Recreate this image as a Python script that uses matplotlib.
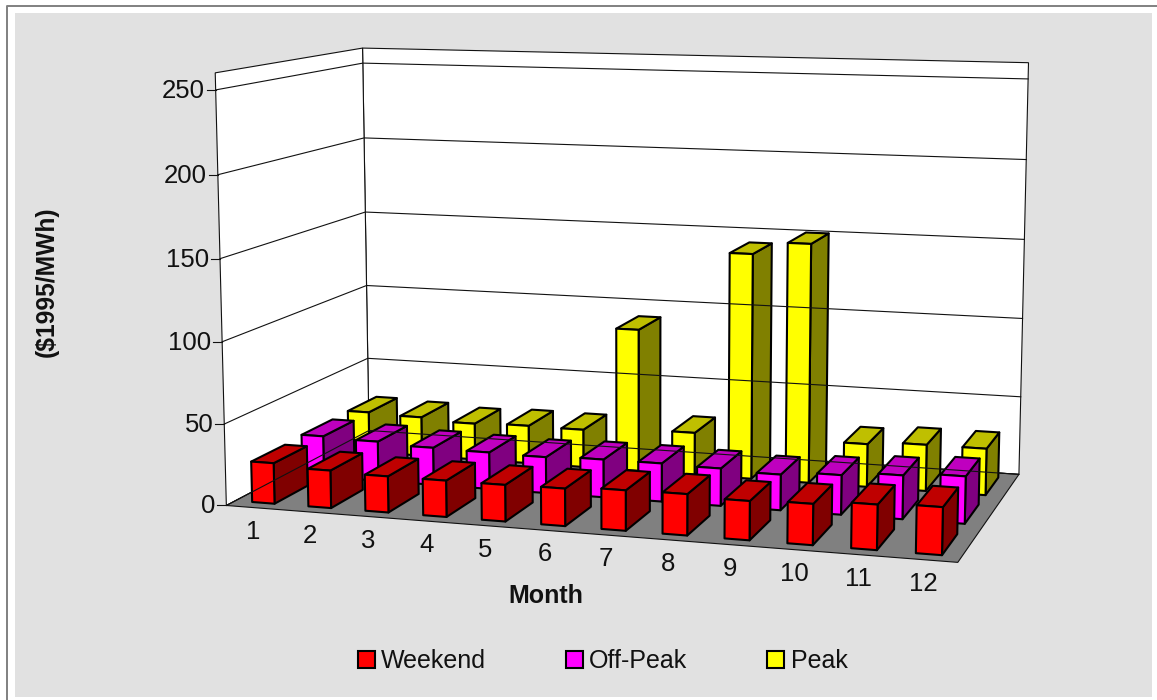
import matplotlib
matplotlib.use('Agg')
import matplotlib.pyplot as plt
from matplotlib.patches import Patch, Polygon, Rectangle
import numpy as np

plt.rcParams['font.family'] = ['Liberation Sans', 'DejaVu Sans']

months = ['1', '2', '3', '4', '5', '6', '7', '8', '9', '10', '11', '12']
weekend = [25, 23, 22, 22, 22, 22.4, 24, 24.4, 23, 24, 26.3, 27.5]
off_peak = [26, 25, 23.5, 23, 22.5, 23.5, 23.6, 23, 21.8, 24, 26.4, 28.4]
peak = [26.5, 25.5, 23.6, 24.5, 24.3, 91, 27, 142.5, 150.4, 27, 29, 29]
y_ticks = [0, 50, 100, 150, 200, 250]
y_top = 260
series = [('Peak', peak, '#FFFF00', '#808000', '#BFBF00'),
          ('Off-Peak', off_peak, '#FF00FF', '#800080', '#BF00BF'),
          ('Weekend', weekend, '#FF0000', '#800000', '#BF0000')]

# chart frame: (month, depth, value) corners and where they land on the canvas
frame_pts = [(0, 0, 0), (12, 0, 0), (12, 3, 0), (0, 3, 260), (12, 3, 260), (0, 0, 260),
             (0, 0, 250), (0, 3, 250), (12, 3, 250), (0, 0, 200), (0, 3, 200), (0, 0, 50), (0, 3, 50)]
frame_px = [(225.7, 505.3), (957.7, 562.7), (1019, 474), (362.7, 48), (1028.3, 62.7), (214.7, 72.7),
            (215.7, 90), (362.7, 63.3), (1028.3, 79), (218.3, 174.7), (364, 137.7), (225, 424), (367.7, 358.7)]


def fit_camera(pts, px):
    # least squares 3x4 projective matrix, coordinates scaled to 0-1
    rows, rhs = [], []
    for (x, y, z), (u, v) in zip(pts, px):
        p = [x / 12, y / 3, z / 260, 1]
        rows.append(p + [0, 0, 0, 0] + [-u * c for c in p[:3]])
        rows.append([0, 0, 0, 0] + p + [-v * c for c in p[:3]])
        rhs += [u, v]
    sol = np.linalg.lstsq(np.array(rows), np.array(rhs), rcond=None)[0]
    return np.append(sol, 1).reshape(3, 4)


cam = fit_camera(frame_pts, frame_px)


def project(x, y, z):
    h = cam @ np.array([x / 12, y / 3, z / 260, 1])
    return h[0] / h[2], h[1] / h[2]


def face(ax, corners, color, **kw):
    ax.add_patch(Polygon([project(*c) for c in corners], closed=True, facecolor=color, **kw))


fig = plt.figure(figsize=(11.57, 7), dpi=100)
ax = fig.add_axes([0, 0, 1, 1])
ax.set_xlim(0, 1157)
ax.set_ylim(700, 0)
ax.axis('off')
ax.add_patch(Rectangle((15, 13), 1137, 684, facecolor='#E1E1E1', edgecolor='none'))
ax.plot([7, 7, 1157], [700, 6, 6], color='#808080', lw=1.4)

# walls and floor
line = dict(edgecolor='#111111', lw=0.8)
face(ax, [(0, 3, 0), (12, 3, 0), (12, 3, y_top), (0, 3, y_top)], 'white', **line)
face(ax, [(0, 0, 0), (0, 3, 0), (0, 3, y_top), (0, 0, y_top)], 'white', **line)
face(ax, [(0, 0, 0), (12, 0, 0), (12, 3, 0), (0, 3, 0)], '#808080', **line)

for v in y_ticks:
    ax.plot(*zip(project(0, 0, v), project(0, 3, v), project(12, 3, v)), color='#111111', lw=0.8)
    u0, v0 = project(0, 0, v)
    ax.plot([u0 - 9, u0], [v0, v0], color='#111111', lw=0.8)
    ax.text(u0 - 11, v0 + 1, str(v), ha='right', va='center', fontsize=18.5, color='#111111')

# bars, back row first
bar_lw = 1.5
half_w = 0.2
for row, (name, values, front, side, top) in zip([2, 1, 0], series):
    y0, y1 = row + 0.17, row + 0.83
    for i, val in enumerate(values):
        x0, x1 = i + 0.5 - half_w, i + 0.5 + half_w
        edge = dict(edgecolor='black', lw=bar_lw, joinstyle='round')
        face(ax, [(x1, y0, 0), (x1, y1, 0), (x1, y1, val), (x1, y0, val)], side, **edge)
        face(ax, [(x0, y0, val), (x1, y0, val), (x1, y1, val), (x0, y1, val)], top, **edge)
        face(ax, [(x0, y0, 0), (x1, y0, 0), (x1, y0, val), (x0, y0, val)], front, **edge)

for i, m in enumerate(months):
    u, v = project(i + 0.5, 0, 0)
    ax.text(u - 1, v + 24, m, ha='center', va='center', fontsize=18.5, color='#111111')

ax.text(546, 596, 'Month', ha='center', va='center', fontsize=18, fontweight='bold', color='#111111')
ax.text(47, 282, '($1995/MWh)', ha='center', va='center', rotation=90, fontsize=17.7, fontweight='bold', color='#111111')

handles = [Patch(facecolor=s[2], edgecolor='black', lw=1.5, label=s[0]) for s in reversed(series)]
ax.legend(handles=handles, ncol=3, loc='center', bbox_to_anchor=(602.5, 661), bbox_transform=ax.transData,
          frameon=False, fontsize=18, handlelength=0.68, handleheight=0.68, handletextpad=0.25,
          columnspacing=3.2, labelcolor='#111111', borderpad=0, borderaxespad=0)

fig.savefig('out.png', dpi=100)
